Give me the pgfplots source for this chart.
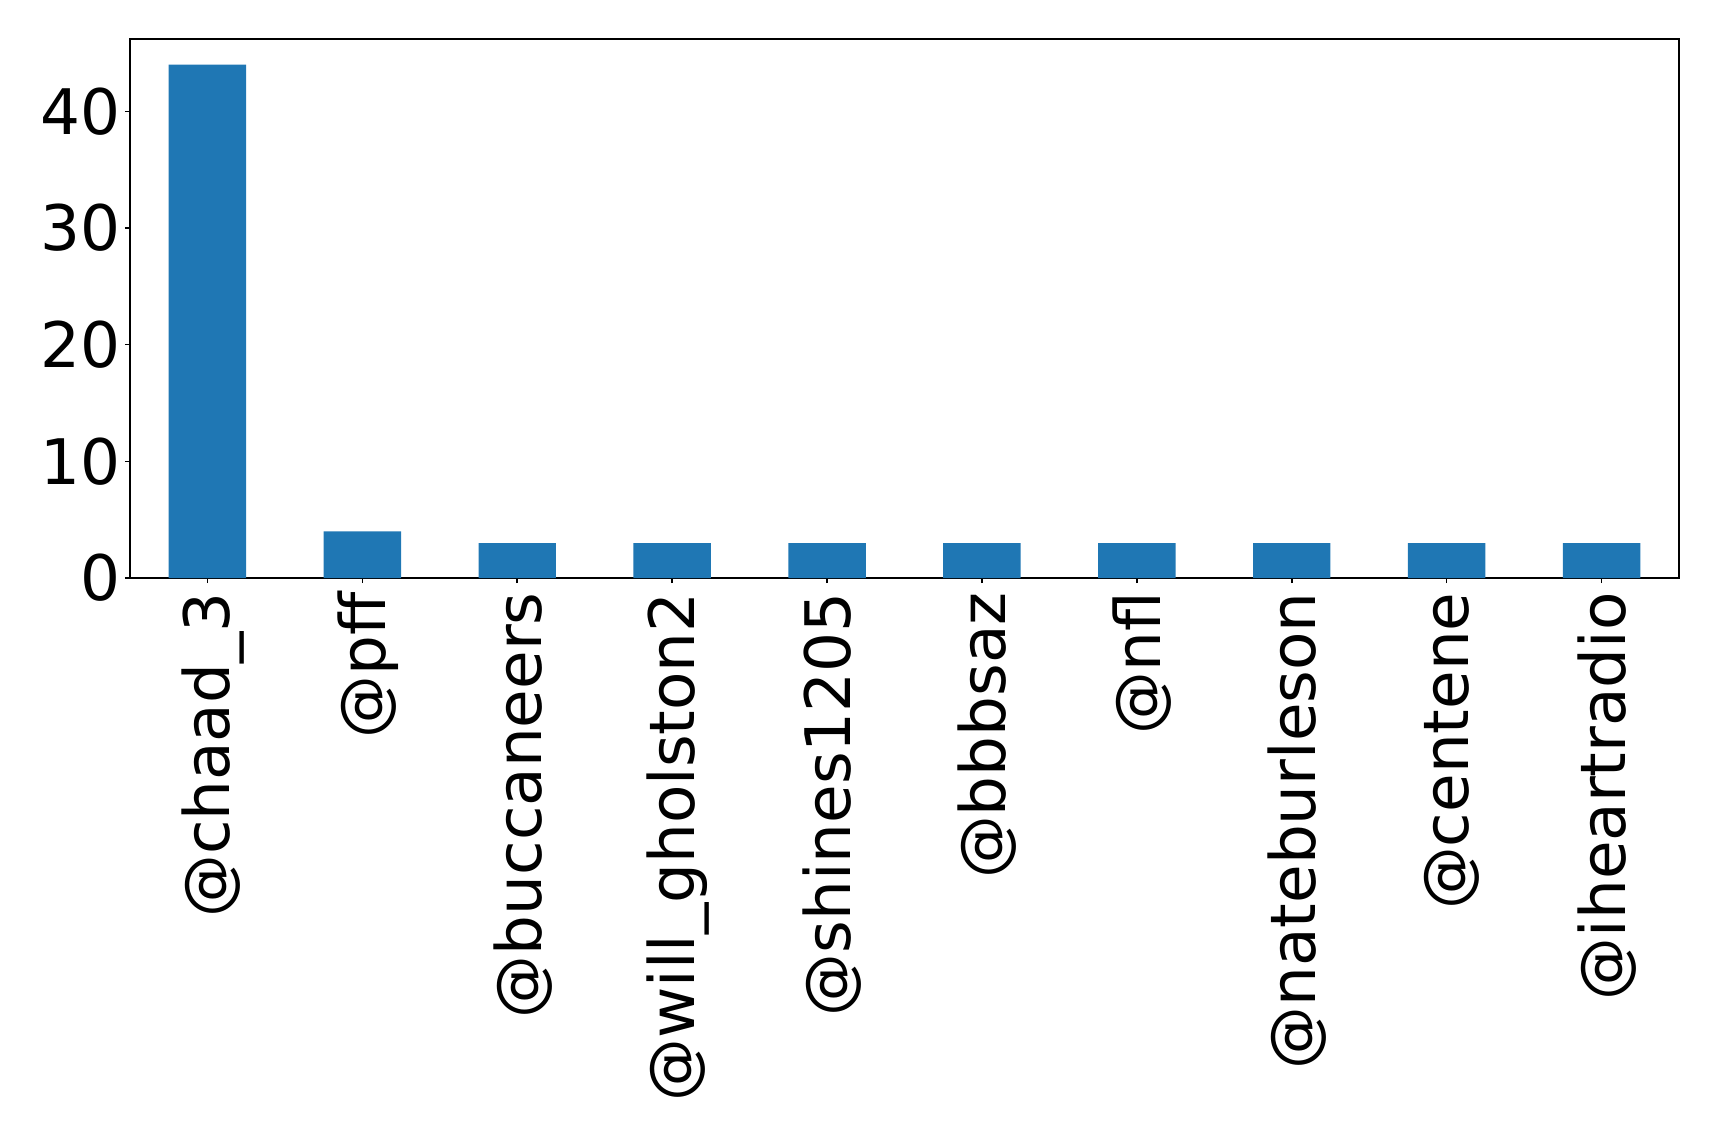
\documentclass[border=0pt]{standalone}
\usepackage{pgfplots}
\pgfplotsset{compat=1.18}
\usepackage{fontspec}
\setmainfont{DejaVu Sans}
\definecolor{mplblue}{HTML}{1F77B4}
\begin{document}
\begin{tikzpicture}
\path (-65pt,-278pt) rectangle (794.5pt,289pt);
\begin{axis}[
  anchor=south west, at={(0,0)},
  scale only axis,
  width=774.5pt, height=269.5pt,
  xmin=-0.5, xmax=9.5,
  ymin=0, ymax=46.2,
  ytick={0,10,20,30,40},
  xtick={0,...,9},
  xticklabels={@chaad\_3,@pff,@buccaneers,@will\_gholston2,@shines1205,@bbbsaz,@nfl,@nateburleson,@centene,@iheartradio},
  tick align=outside,
  tick pos=left,
  major tick length=2.5pt,
  every tick/.style={black, line width=0.8pt},
  axis line style={line width=0.9pt},
  /pgf/number format/assume math mode=true,
  tick label style={font=\fontsize{31.4}{37}\selectfont, inner sep=0pt},
  yticklabel style={xshift=-2pt},
  xticklabel style={xshift=2.7pt, yshift=-4.5pt, rotate=90, anchor=east},
]
\addplot[ybar, bar width=0.5, fill=mplblue, draw=none] coordinates {
  (0,44) (1,4) (2,3) (3,3) (4,3) (5,3) (6,3) (7,3) (8,3) (9,3)
};
\end{axis}
\end{tikzpicture}
\end{document}
